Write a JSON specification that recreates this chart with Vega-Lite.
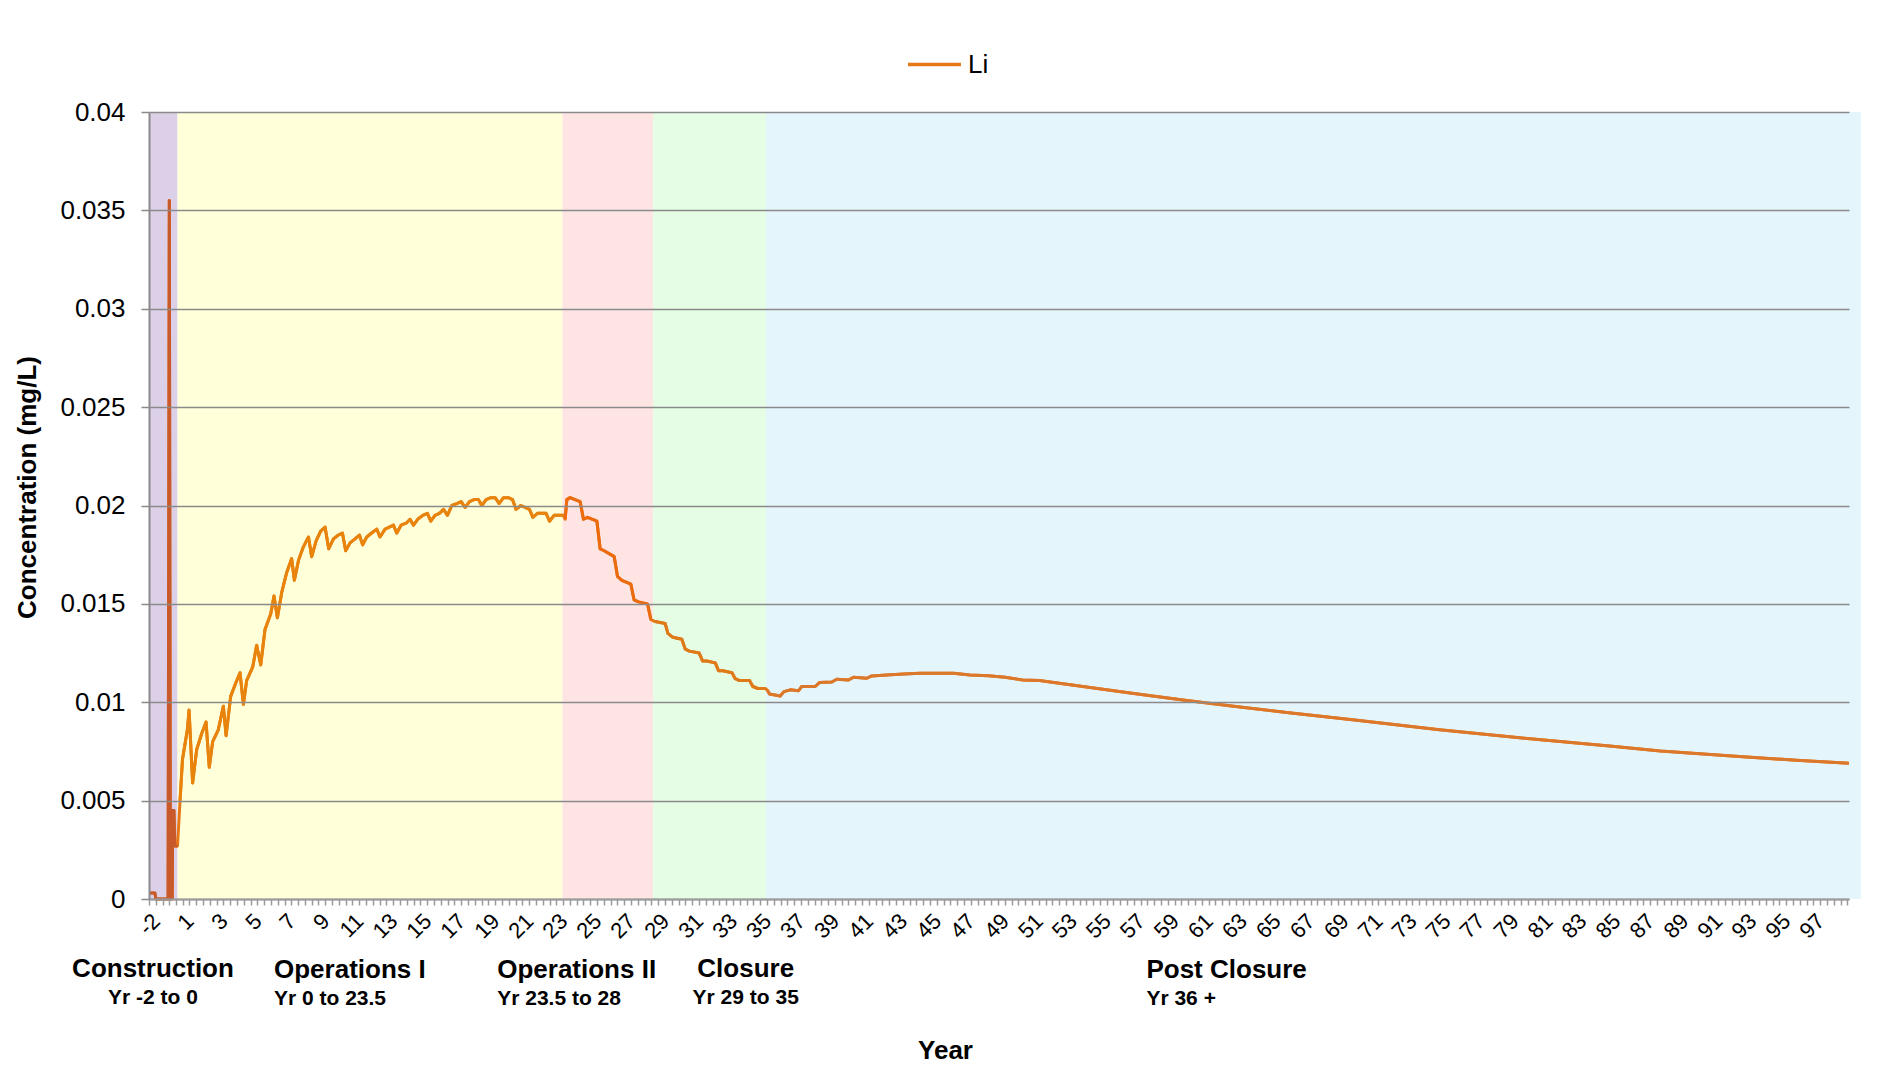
{
  "$schema": "https://vega.github.io/schema/vega-lite/v6.json",
  "width": 1700,
  "height": 787,
  "autosize": {"type": "none"},
  "padding": {"left": 149, "top": 112, "right": 43, "bottom": 166},
  "background": "#ffffff",
  "config": {
    "view": {"stroke": null},
    "font": "Liberation Sans",
    "text": {"font": "Liberation Sans", "color": "#000000"}
  },
  "datasets": {
    "li": [
      {"year": -2, "li": 0.0003, "phase": "Construction"},
      {"year": -1.58, "li": 0.0003, "phase": "Construction"},
      {"year": -1.52, "li": 0, "phase": "Construction"},
      {"year": -0.66, "li": 0, "phase": "Construction"},
      {"year": -0.575, "li": 0.0355, "phase": "Construction"},
      {"year": -0.5, "li": 0, "phase": "Construction"},
      {"year": -0.37, "li": 0, "phase": "Construction"},
      {"year": -0.34, "li": 0.0045, "phase": "Construction"},
      {"year": -0.25, "li": 0.0045, "phase": "Construction"},
      {"year": -0.19, "li": 0.0027, "phase": "Construction"},
      {"year": 0, "li": 0.0027, "phase": "Construction"},
      {"year": 0.5, "li": 0.005, "phase": "Operations I"},
      {"year": 0.98, "li": 0.0071, "phase": "Operations I"},
      {"year": 1.28, "li": 0.0086, "phase": "Operations I"},
      {"year": 1.38, "li": 0.0096, "phase": "Operations I"},
      {"year": 1.59, "li": 0.0059, "phase": "Operations I"},
      {"year": 1.83, "li": 0.0076, "phase": "Operations I"},
      {"year": 2.12, "li": 0.0084, "phase": "Operations I"},
      {"year": 2.38, "li": 0.009, "phase": "Operations I"},
      {"year": 2.57, "li": 0.0067, "phase": "Operations I"},
      {"year": 2.77, "li": 0.008, "phase": "Operations I"},
      {"year": 3.1, "li": 0.0086, "phase": "Operations I"},
      {"year": 3.4, "li": 0.0098, "phase": "Operations I"},
      {"year": 3.56, "li": 0.0083, "phase": "Operations I"},
      {"year": 3.83, "li": 0.0103, "phase": "Operations I"},
      {"year": 4.14, "li": 0.011, "phase": "Operations I"},
      {"year": 4.38, "li": 0.0115, "phase": "Operations I"},
      {"year": 4.58, "li": 0.0099, "phase": "Operations I"},
      {"year": 4.77, "li": 0.0111, "phase": "Operations I"},
      {"year": 5.13, "li": 0.0118, "phase": "Operations I"},
      {"year": 5.36, "li": 0.0129, "phase": "Operations I"},
      {"year": 5.6, "li": 0.0119, "phase": "Operations I"},
      {"year": 5.85, "li": 0.0137, "phase": "Operations I"},
      {"year": 6.19, "li": 0.0145, "phase": "Operations I"},
      {"year": 6.38, "li": 0.0154, "phase": "Operations I"},
      {"year": 6.58, "li": 0.0143, "phase": "Operations I"},
      {"year": 6.84, "li": 0.0156, "phase": "Operations I"},
      {"year": 7.13, "li": 0.0166, "phase": "Operations I"},
      {"year": 7.42, "li": 0.0173, "phase": "Operations I"},
      {"year": 7.58, "li": 0.0162, "phase": "Operations I"},
      {"year": 7.82, "li": 0.0172, "phase": "Operations I"},
      {"year": 8.11, "li": 0.0179, "phase": "Operations I"},
      {"year": 8.41, "li": 0.0184, "phase": "Operations I"},
      {"year": 8.6, "li": 0.0174, "phase": "Operations I"},
      {"year": 8.86, "li": 0.0182, "phase": "Operations I"},
      {"year": 9.13, "li": 0.0187, "phase": "Operations I"},
      {"year": 9.39, "li": 0.0189, "phase": "Operations I"},
      {"year": 9.6, "li": 0.0178, "phase": "Operations I"},
      {"year": 9.88, "li": 0.0183, "phase": "Operations I"},
      {"year": 10.17, "li": 0.0185, "phase": "Operations I"},
      {"year": 10.41, "li": 0.0186, "phase": "Operations I"},
      {"year": 10.6, "li": 0.0177, "phase": "Operations I"},
      {"year": 10.86, "li": 0.0181, "phase": "Operations I"},
      {"year": 11.15, "li": 0.0183, "phase": "Operations I"},
      {"year": 11.41, "li": 0.0185, "phase": "Operations I"},
      {"year": 11.6, "li": 0.018, "phase": "Operations I"},
      {"year": 11.84, "li": 0.0184, "phase": "Operations I"},
      {"year": 12.13, "li": 0.0186, "phase": "Operations I"},
      {"year": 12.43, "li": 0.0188, "phase": "Operations I"},
      {"year": 12.62, "li": 0.0184, "phase": "Operations I"},
      {"year": 12.92, "li": 0.0188, "phase": "Operations I"},
      {"year": 13.17, "li": 0.0189, "phase": "Operations I"},
      {"year": 13.41, "li": 0.019, "phase": "Operations I"},
      {"year": 13.61, "li": 0.0186, "phase": "Operations I"},
      {"year": 13.86, "li": 0.019, "phase": "Operations I"},
      {"year": 14.16, "li": 0.0191, "phase": "Operations I"},
      {"year": 14.39, "li": 0.0193, "phase": "Operations I"},
      {"year": 14.59, "li": 0.019, "phase": "Operations I"},
      {"year": 14.84, "li": 0.0193, "phase": "Operations I"},
      {"year": 15.14, "li": 0.0195, "phase": "Operations I"},
      {"year": 15.41, "li": 0.0196, "phase": "Operations I"},
      {"year": 15.61, "li": 0.0192, "phase": "Operations I"},
      {"year": 15.86, "li": 0.0195, "phase": "Operations I"},
      {"year": 16.12, "li": 0.0196, "phase": "Operations I"},
      {"year": 16.36, "li": 0.0198, "phase": "Operations I"},
      {"year": 16.59, "li": 0.0195, "phase": "Operations I"},
      {"year": 16.85, "li": 0.02, "phase": "Operations I"},
      {"year": 17.14, "li": 0.0201, "phase": "Operations I"},
      {"year": 17.4, "li": 0.0202, "phase": "Operations I"},
      {"year": 17.63, "li": 0.0199, "phase": "Operations I"},
      {"year": 17.89, "li": 0.0202, "phase": "Operations I"},
      {"year": 18.16, "li": 0.0203, "phase": "Operations I"},
      {"year": 18.42, "li": 0.0203, "phase": "Operations I"},
      {"year": 18.61, "li": 0.02, "phase": "Operations I"},
      {"year": 18.87, "li": 0.0203, "phase": "Operations I"},
      {"year": 19.14, "li": 0.0204, "phase": "Operations I"},
      {"year": 19.4, "li": 0.0204, "phase": "Operations I"},
      {"year": 19.63, "li": 0.0201, "phase": "Operations I"},
      {"year": 19.89, "li": 0.0204, "phase": "Operations I"},
      {"year": 20.18, "li": 0.0204, "phase": "Operations I"},
      {"year": 20.42, "li": 0.0203, "phase": "Operations I"},
      {"year": 20.63, "li": 0.0198, "phase": "Operations I"},
      {"year": 20.91, "li": 0.02, "phase": "Operations I"},
      {"year": 21.16, "li": 0.0199, "phase": "Operations I"},
      {"year": 21.42, "li": 0.0198, "phase": "Operations I"},
      {"year": 21.62, "li": 0.0194, "phase": "Operations I"},
      {"year": 21.89, "li": 0.0196, "phase": "Operations I"},
      {"year": 22.15, "li": 0.0196, "phase": "Operations I"},
      {"year": 22.4, "li": 0.0196, "phase": "Operations I"},
      {"year": 22.6, "li": 0.0192, "phase": "Operations I"},
      {"year": 22.87, "li": 0.0195, "phase": "Operations I"},
      {"year": 23.13, "li": 0.0195, "phase": "Operations I"},
      {"year": 23.42, "li": 0.0195, "phase": "Operations I"},
      {"year": 23.52, "li": 0.0193, "phase": "Operations II"},
      {"year": 23.62, "li": 0.0203, "phase": "Operations II"},
      {"year": 23.81, "li": 0.0204, "phase": "Operations II"},
      {"year": 24.4, "li": 0.0202, "phase": "Operations II"},
      {"year": 24.6, "li": 0.0193, "phase": "Operations II"},
      {"year": 24.84, "li": 0.0194, "phase": "Operations II"},
      {"year": 25.39, "li": 0.0192, "phase": "Operations II"},
      {"year": 25.58, "li": 0.0178, "phase": "Operations II"},
      {"year": 25.82, "li": 0.0177, "phase": "Operations II"},
      {"year": 26.41, "li": 0.0174, "phase": "Operations II"},
      {"year": 26.6, "li": 0.0164, "phase": "Operations II"},
      {"year": 26.86, "li": 0.0162, "phase": "Operations II"},
      {"year": 27.39, "li": 0.016, "phase": "Operations II"},
      {"year": 27.58, "li": 0.0152, "phase": "Operations II"},
      {"year": 27.84, "li": 0.0151, "phase": "Operations II"},
      {"year": 28.37, "li": 0.015, "phase": "Operations II"},
      {"year": 28.57, "li": 0.0142, "phase": "Operations II"},
      {"year": 28.82, "li": 0.0141, "phase": "Closure"},
      {"year": 29.41, "li": 0.014, "phase": "Closure"},
      {"year": 29.57, "li": 0.0135, "phase": "Closure"},
      {"year": 29.86, "li": 0.0133, "phase": "Closure"},
      {"year": 30.39, "li": 0.0132, "phase": "Closure"},
      {"year": 30.59, "li": 0.0127, "phase": "Closure"},
      {"year": 30.84, "li": 0.0126, "phase": "Closure"},
      {"year": 31.41, "li": 0.0125, "phase": "Closure"},
      {"year": 31.61, "li": 0.0121, "phase": "Closure"},
      {"year": 31.86, "li": 0.0121, "phase": "Closure"},
      {"year": 32.36, "li": 0.012, "phase": "Closure"},
      {"year": 32.55, "li": 0.0116, "phase": "Closure"},
      {"year": 32.81, "li": 0.0116, "phase": "Closure"},
      {"year": 33.34, "li": 0.0115, "phase": "Closure"},
      {"year": 33.53, "li": 0.0112, "phase": "Closure"},
      {"year": 33.79, "li": 0.0111, "phase": "Closure"},
      {"year": 34.38, "li": 0.0111, "phase": "Closure"},
      {"year": 34.57, "li": 0.0108, "phase": "Closure"},
      {"year": 34.87, "li": 0.0107, "phase": "Closure"},
      {"year": 35.3, "li": 0.0107, "phase": "Closure"},
      {"year": 35.44, "li": 0.0106, "phase": "Post Closure"},
      {"year": 35.55, "li": 0.01042, "phase": "Post Closure"},
      {"year": 36.18, "li": 0.01032, "phase": "Post Closure"},
      {"year": 36.4, "li": 0.01054, "phase": "Post Closure"},
      {"year": 36.77, "li": 0.01063, "phase": "Post Closure"},
      {"year": 37.26, "li": 0.01059, "phase": "Post Closure"},
      {"year": 37.45, "li": 0.0108, "phase": "Post Closure"},
      {"year": 38.24, "li": 0.0108, "phase": "Post Closure"},
      {"year": 38.49, "li": 0.011, "phase": "Post Closure"},
      {"year": 39.22, "li": 0.01103, "phase": "Post Closure"},
      {"year": 39.51, "li": 0.01117, "phase": "Post Closure"},
      {"year": 40.2, "li": 0.01113, "phase": "Post Closure"},
      {"year": 40.5, "li": 0.01127, "phase": "Post Closure"},
      {"year": 41.28, "li": 0.01122, "phase": "Post Closure"},
      {"year": 41.57, "li": 0.01134, "phase": "Post Closure"},
      {"year": 42.46, "li": 0.01138, "phase": "Post Closure"},
      {"year": 43.44, "li": 0.01144, "phase": "Post Closure"},
      {"year": 44.42, "li": 0.01147, "phase": "Post Closure"},
      {"year": 45.4, "li": 0.01147, "phase": "Post Closure"},
      {"year": 46.38, "li": 0.01147, "phase": "Post Closure"},
      {"year": 47.36, "li": 0.01138, "phase": "Post Closure"},
      {"year": 48.44, "li": 0.01135, "phase": "Post Closure"},
      {"year": 49.42, "li": 0.01127, "phase": "Post Closure"},
      {"year": 50.46, "li": 0.01113, "phase": "Post Closure"},
      {"year": 51.44, "li": 0.0111, "phase": "Post Closure"},
      {"year": 54, "li": 0.0108, "phase": "Post Closure"},
      {"year": 57, "li": 0.01045, "phase": "Post Closure"},
      {"year": 60, "li": 0.0101, "phase": "Post Closure"},
      {"year": 63, "li": 0.00978, "phase": "Post Closure"},
      {"year": 66, "li": 0.00948, "phase": "Post Closure"},
      {"year": 70, "li": 0.0091, "phase": "Post Closure"},
      {"year": 75, "li": 0.0086, "phase": "Post Closure"},
      {"year": 80, "li": 0.00817, "phase": "Post Closure"},
      {"year": 85, "li": 0.00778, "phase": "Post Closure"},
      {"year": 88, "li": 0.00752, "phase": "Post Closure"},
      {"year": 92, "li": 0.00728, "phase": "Post Closure"},
      {"year": 96, "li": 0.00705, "phase": "Post Closure"},
      {"year": 99.1, "li": 0.0069, "phase": "Post Closure"}
    ],
    "bands": [
      {"phase": "Construction", "year": -2, "year_end": 0},
      {"phase": "Operations I", "year": 0, "year_end": 23.36},
      {"phase": "Operations II", "year": 23.36, "year_end": 28.69},
      {"phase": "Closure", "year": 28.69, "year_end": 35.34},
      {"phase": "Post Closure", "year": 35.34, "year_end": 99.79}
    ],
    "notes": [
      {"title": "Construction", "sub": "Yr -2 to 0", "year": -1.72},
      {"title": "Operations I", "sub": "Yr 0 to 23.5", "year": 6.38},
      {"title": "Operations II", "sub": "Yr 23.5 to 28", "year": 19.52},
      {"title": "Closure", "sub": "Yr 29 to 35", "year": 34.15},
      {"title": "Post Closure", "sub": "Yr 36 +", "year": 57.74}
    ]
  },
  "encoding": {
    "x": {
      "field": "year",
      "type": "quantitative",
      "scale": {"type": "linear", "domain": [-2, 0, 1, 99.1], "range": [0, 28.5, 33.6, 1700], "nice": false, "zero": false},
      "axis": {
        "zindex": 1,
        "title": "Year",
        "titleFont": "Liberation Sans",
        "titleFontSize": 26,
        "titleFontWeight": "bold",
        "titleColor": "#000000",
        "titleX": 796,
        "titleY": 151,
        "titleAlign": "center",
        "titleBaseline": "middle",
        "values": [-2, -1.523, -1.047, -0.571, -0.094,
          1, 1.4, 1.8, 2.2, 2.6, 3, 3.4, 3.8, 4.2, 4.6, 5, 5.4, 5.8, 6.2, 6.6, 7, 7.4, 7.8, 8.2, 8.6, 9, 9.4, 9.8, 10.2, 10.6,
          11, 11.4, 11.8, 12.2, 12.6, 13, 13.4, 13.8, 14.2, 14.6, 15, 15.4, 15.8, 16.2, 16.6, 17, 17.4, 17.8, 18.2, 18.6, 19, 19.4, 19.8, 20.2, 20.6,
          21, 21.4, 21.8, 22.2, 22.6, 23, 23.4, 23.8, 24.2, 24.6, 25, 25.4, 25.8, 26.2, 26.6, 27, 27.4, 27.8, 28.2, 28.6, 29, 29.4, 29.8, 30.2, 30.6,
          31, 31.4, 31.8, 32.2, 32.6, 33, 33.4, 33.8, 34.2, 34.6, 35, 35.4, 35.8, 36.2, 36.6, 37, 37.4, 37.8, 38.2, 38.6, 39, 39.4, 39.8, 40.2, 40.6,
          41, 41.4, 41.8, 42.2, 42.6, 43, 43.4, 43.8, 44.2, 44.6, 45, 45.4, 45.8, 46.2, 46.6, 47, 47.4, 47.8, 48.2, 48.6, 49, 49.4, 49.8, 50.2, 50.6,
          51, 51.4, 51.8, 52.2, 52.6, 53, 53.4, 53.8, 54.2, 54.6, 55, 55.4, 55.8, 56.2, 56.6, 57, 57.4, 57.8, 58.2, 58.6, 59, 59.4, 59.8, 60.2, 60.6,
          61, 61.4, 61.8, 62.2, 62.6, 63, 63.4, 63.8, 64.2, 64.6, 65, 65.4, 65.8, 66.2, 66.6, 67, 67.4, 67.8, 68.2, 68.6, 69, 69.4, 69.8, 70.2, 70.6,
          71, 71.4, 71.8, 72.2, 72.6, 73, 73.4, 73.8, 74.2, 74.6, 75, 75.4, 75.8, 76.2, 76.6, 77, 77.4, 77.8, 78.2, 78.6, 79, 79.4, 79.8, 80.2, 80.6,
          81, 81.4, 81.8, 82.2, 82.6, 83, 83.4, 83.8, 84.2, 84.6, 85, 85.4, 85.8, 86.2, 86.6, 87, 87.4, 87.8, 88.2, 88.6, 89, 89.4, 89.8, 90.2, 90.6,
          91, 91.4, 91.8, 92.2, 92.6, 93, 93.4, 93.8, 94.2, 94.6, 95, 95.4, 95.8, 96.2, 96.6, 97, 97.4, 97.8, 98.2, 98.6, 99],
        "labelExpr": "datum.value == -2 ? '-2' : ((abs(datum.value - round(datum.value)) < 0.01 && datum.value < 98) ? format(datum.value, 'd') : '')",
        "labelAngle": -45,
        "labelFont": "Liberation Sans",
        "labelFontSize": 22,
        "labelColor": "#000000",
        "labelOverlap": false,
        "labelFlush": false,
        "labelPadding": 5,
        "tickSize": 6,
        "tickColor": "#9a9a9a",
        "tickWidth": 1.5,
        "domainColor": "#9a9a9a",
        "domainWidth": 2,
        "grid": false
      }
    },
    "y": {
      "type": "quantitative",
      "scale": {"domain": [0, 0.04], "nice": false, "zero": true},
      "title": "Concentration (mg/L)",
      "axis": {
        "zindex": 1,
        "values": [0, 0.005, 0.01, 0.015, 0.02, 0.025, 0.03, 0.035, 0.04],
        "format": "~g",
        "titleFont": "Liberation Sans",
        "titleFontSize": 26,
        "titleFontWeight": "bold",
        "titleColor": "#000000",
        "titleX": -122,
        "titleY": 375,
        "titleAlign": "center",
        "titleBaseline": "middle",
        "titleAngle": -90,
        "labelFont": "Liberation Sans",
        "labelFontSize": 26,
        "labelColor": "#000000",
        "labelPadding": 16,
        "tickSize": 8,
        "tickColor": "#8a8a8a",
        "tickWidth": 1.5,
        "domainColor": "#8a8a8a",
        "domainWidth": 2,
        "grid": true,
        "gridColor": "#8a8a8a",
        "gridWidth": 1.5
      }
    }
  },
  "layer": [
    {
      "data": {"name": "bands"},
      "mark": {"type": "rect"},
      "encoding": {
        "x2": {"field": "year_end"},
        "y": {"datum": 0, "type": "quantitative"},
        "y2": {"datum": 0.04},
        "fill": {
          "field": "phase",
          "type": "nominal",
          "scale": {
            "domain": ["Construction", "Operations I", "Operations II", "Closure", "Post Closure"],
            "range": ["#DCD0E8", "#FFFFD9", "#FFE4E4", "#E5FDE5", "#E5F5FC"]
          },
          "legend": null
        }
      }
    },
    {
      "data": {"name": "li"},
      "mark": {"type": "line", "strokeWidth": 3, "strokeJoin": "round"},
      "encoding": {
        "y": {"field": "li", "type": "quantitative"},
        "color": {
          "datum": "Li",
          "type": "nominal",
          "scale": {"domain": ["Li"], "range": ["#E77817"]},
          "legend": {
            "orient": "none",
            "legendX": 757,
            "legendY": -76,
            "title": null,
            "direction": "horizontal",
            "symbolType": "stroke",
            "symbolSize": 2800,
            "symbolStrokeWidth": 3.5,
            "labelFont": "Liberation Sans",
            "labelFontSize": 26,
            "labelColor": "#000000",
            "labelOffset": 5,
            "padding": 0
          }
        }
      }
    },
    {
      "data": {"name": "li"},
      "mark": {"type": "line", "strokeWidth": 3, "strokeJoin": "round"},
      "encoding": {
        "y": {"field": "li", "type": "quantitative"},
        "stroke": {
          "field": "phase",
          "type": "nominal",
          "scale": {
            "domain": ["Construction", "Operations I", "Operations II", "Closure", "Post Closure"],
            "range": ["#C8592B", "#E8830C", "#EB6B0E", "#DF7A18", "#DB782B"]
          },
          "legend": null
        }
      }
    },
    {
      "data": {"name": "notes"},
      "transform": [{"filter": "datum.title == 'Construction' || datum.title == 'Closure'"}],
      "mark": {"type": "text", "align": "center", "baseline": "middle", "dy": 70, "fontSize": 26, "fontWeight": "bold"},
      "encoding": {
        "y": {"datum": 0, "type": "quantitative"},
        "text": {"field": "title"}
      }
    },
    {
      "data": {"name": "notes"},
      "transform": [{"filter": "datum.title == 'Construction' || datum.title == 'Closure'"}],
      "mark": {"type": "text", "align": "center", "baseline": "middle", "dy": 99, "fontSize": 21, "fontWeight": "bold"},
      "encoding": {
        "y": {"datum": 0, "type": "quantitative"},
        "text": {"field": "sub"}
      }
    },
    {
      "data": {"name": "notes"},
      "transform": [{"filter": "datum.title != 'Construction' && datum.title != 'Closure'"}],
      "mark": {"type": "text", "align": "left", "baseline": "middle", "dy": 71, "fontSize": 26, "fontWeight": "bold"},
      "encoding": {
        "y": {"datum": 0, "type": "quantitative"},
        "text": {"field": "title"}
      }
    },
    {
      "data": {"name": "notes"},
      "transform": [{"filter": "datum.title != 'Construction' && datum.title != 'Closure'"}],
      "mark": {"type": "text", "align": "left", "baseline": "middle", "dy": 100, "fontSize": 21, "fontWeight": "bold"},
      "encoding": {
        "y": {"datum": 0, "type": "quantitative"},
        "text": {"field": "sub"}
      }
    }
  ]
}
